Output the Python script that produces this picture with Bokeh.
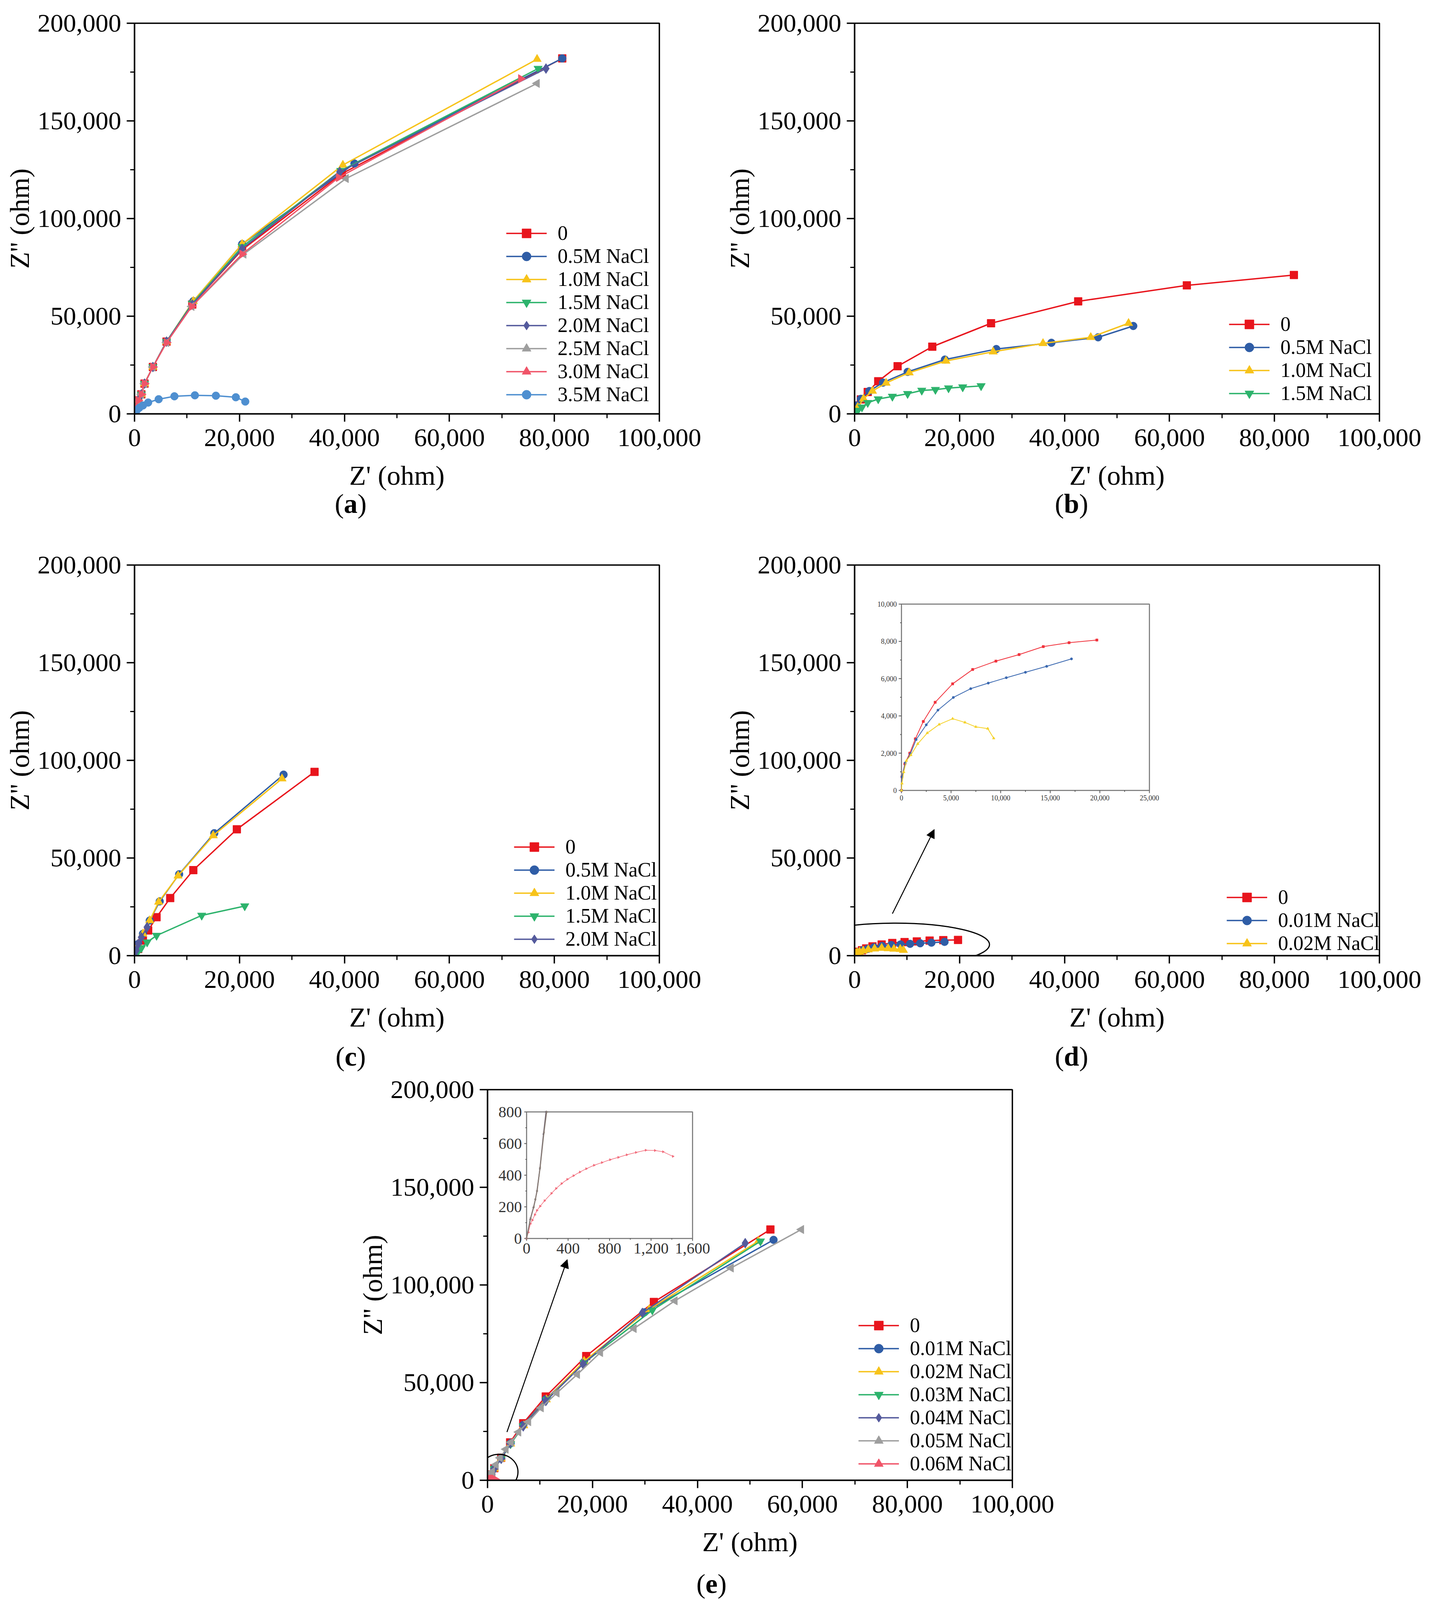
from bokeh.plotting import figure
from bokeh.models import (Range1d, FixedTicker, NumeralTickFormatter, Legend, LegendItem,
                          Arrow, NormalHead, ColumnDataSource, Spacer, Div)
from bokeh.layouts import column, row
from bokeh.core.properties import value
from bokeh.embed import file_html
from bokeh.resources import INLINE
import math

FONT = "Liberation Serif"
RED = "#E8141C"; BLUE = "#2F5DA6"; YELLOW = "#F7C31A"; GREEN = "#2DB36C"
PURPLE = "#545A9C"; GRAY = "#9E9E9E"; PINK = "#F05468"; LBLUE = "#4E8FD0"

X_TICKS = [0, 20000, 40000, 60000, 80000, 100000]
X_MINOR = [10000, 30000, 50000, 70000, 90000]
Y_TICKS = [0, 50000, 100000, 150000, 200000]
Y_MINOR = [25000, 75000, 125000, 175000]

# ---------------- (a) ----------------
a_labels = ["0", "0.5M NaCl", "1.0M NaCl", "1.5M NaCl", "2.0M NaCl", "2.5M NaCl", "3.0M NaCl", "3.5M NaCl"]
a_0_x = [0, 300, 700, 1300, 1900, 3500, 6100, 11000, 20500, 39500, 81500]
a_0_y = [0, 3400, 6900, 10000, 15500, 24000, 37000, 56000, 84000, 123000, 182000]
a_05_x = [0, 300, 700, 1300, 1900, 3500, 6100, 11200, 20500, 41900, 81500]
a_05_y = [0, 3400, 6900, 10000, 15500, 24000, 37000, 57700, 86900, 128200, 182000]
a_10_x = [0, 300, 700, 1300, 1900, 3500, 6100, 11200, 20500, 39700, 76700]
a_10_y = [0, 3400, 6900, 10000, 15500, 24000, 37000, 57700, 86900, 127400, 181600]
a_15_x = [0, 300, 700, 1300, 1900, 3500, 6100, 11000, 20500, 39300, 76900]
a_15_y = [0, 3400, 6900, 10000, 15500, 24000, 37000, 56500, 85500, 124500, 176800]
a_20_x = [0, 300, 700, 1300, 1900, 3500, 6100, 11000, 20500, 39100, 78400]
a_20_y = [0, 3400, 6900, 10000, 15500, 24000, 37000, 56000, 84500, 123900, 176800]
a_25_x = [0, 300, 700, 1300, 1900, 3500, 6100, 10900, 20800, 40300, 76700]
a_25_y = [0, 3400, 6900, 10000, 15500, 24000, 36500, 55000, 81800, 120500, 169200]
a_30_x = [0, 300, 700, 1300, 1900, 3500, 6100, 10900, 20500, 38900, 73600]
a_30_y = [0, 3400, 6900, 10000, 15500, 24000, 36500, 55000, 81800, 121000, 171600]
a_35_x = [0, 400, 900, 1600, 2600, 4600, 7600, 11500, 15500, 19300, 21100]
a_35_y = [0, 1800, 3100, 4300, 5800, 7500, 9000, 9500, 9300, 8500, 6300]

# ---------------- (b) ----------------
b_labels = ["0", "0.5M NaCl", "1.0M NaCl", "1.5M NaCl"]
b_0_x = [0, 400, 1200, 2500, 4500, 8200, 14800, 26000, 42600, 63300, 83700]
b_0_y = [0, 4300, 7400, 11200, 16700, 24400, 34400, 46400, 57600, 65800, 71100]
b_05_x = [0, 400, 1200, 2800, 5400, 10100, 17200, 27000, 37500, 46400, 53100]
b_05_y = [0, 4300, 7700, 11700, 16000, 21500, 27800, 33200, 36400, 39200, 45000]
b_10_x = [0, 600, 1700, 3400, 6000, 10400, 17400, 26400, 35900, 45000, 52200]
b_10_y = [0, 3400, 7700, 11700, 15800, 21100, 27100, 31800, 36100, 39200, 46400]
b_15_x = [200, 600, 1400, 2500, 4500, 7200, 10100, 12800, 15400, 17900, 20600, 24100]
b_15_y = [0, 1700, 3400, 5700, 7600, 8900, 10300, 12000, 12400, 13200, 13700, 14300]

# ---------------- (c) ----------------
c_labels = ["0", "0.5M NaCl", "1.0M NaCl", "1.5M NaCl", "2.0M NaCl"]
c_0_x = [0, 700, 1600, 2600, 4200, 6800, 11200, 19500, 34300]
c_0_y = [0, 3400, 7700, 12900, 19700, 29500, 43800, 64700, 94100]
c_05_x = [0, 700, 1600, 2900, 4800, 8500, 15200, 28400]
c_05_y = [0, 6000, 11200, 18000, 27800, 41700, 62700, 92700]
c_10_x = [0, 700, 1600, 2900, 4600, 8300, 15000, 28100]
c_10_y = [0, 6000, 11200, 18000, 27500, 40900, 61500, 90600]
c_15_x = [0, 500, 1300, 2400, 4200, 12800, 21000]
c_15_y = [0, 1400, 3900, 6900, 10300, 20600, 25400]
c_20_x = [0, 300, 700, 1300, 2400]
c_20_y = [0, 2600, 6000, 9400, 14600]

# ---------------- (d) main + inset ----------------
d_labels = ["0", "0.01M NaCl", "0.02M NaCl"]
d_0_x = [0, 50, 340, 840, 1400, 2200, 3400, 5160, 7180, 9520, 11860, 14300, 16900, 19700]
d_0_y = [0, 730, 1430, 2000, 2770, 3700, 4730, 5720, 6490, 6940, 7290, 7720, 7930, 8070]
d_001_x = [0, 50, 390, 900, 1480, 2500, 3680, 5230, 6980, 8750, 10570, 12500, 14640, 17140]
d_001_y = [0, 730, 1480, 1960, 2730, 3520, 4310, 4990, 5460, 5760, 6050, 6340, 6660, 7060]
d_002_x = [0, 50, 230, 500, 950, 1640, 2600, 3800, 5160, 6400, 7500, 8700, 9300]
d_002_y = [0, 380, 990, 1600, 1900, 2500, 3080, 3540, 3850, 3650, 3410, 3320, 2800]
d_in_xticks = [0, 5000, 10000, 15000, 20000, 25000]
d_in_xlabels = ["0", "5,000", "10,000", "15,000", "20,000", "25,000"]
d_in_xminor = [2500, 7500, 12500, 17500, 22500]
d_in_yticks = [0, 2000, 4000, 6000, 8000, 10000]
d_in_ylabels = ["0", "2,000", "4,000", "6,000", "8,000", "10,000"]
d_in_yminor = [1000, 3000, 5000, 7000, 9000]

# ---------------- (e) main + inset ----------------
e_labels = ["0", "0.01M NaCl", "0.02M NaCl", "0.03M NaCl", "0.04M NaCl", "0.05M NaCl", "0.06M NaCl"]
e_0_x = [0, 190, 700, 1300, 2600, 4300, 6800, 11100, 18800, 31700, 53900]
e_0_y = [0, 800, 3000, 6200, 11500, 19400, 29200, 42900, 63600, 91300, 128400]
e_001_x = [0, 190, 700, 1300, 2600, 4400, 6800, 11100, 18400, 29900, 54500]
e_001_y = [0, 800, 2900, 6000, 11200, 18900, 28300, 41500, 60600, 86000, 123100]
e_002_x = [0, 190, 700, 1300, 2600, 4400, 6900, 11200, 18400, 30800, 51600]
e_002_y = [0, 800, 2900, 5900, 11000, 18700, 28000, 41300, 61000, 87500, 122400]
e_003_x = [0, 190, 700, 1300, 2600, 4400, 6800, 11300, 18400, 31400, 52000]
e_003_y = [0, 800, 2900, 5900, 11000, 18600, 27700, 41200, 60100, 87100, 122400]
e_004_x = [0, 188, 700, 1300, 2600, 4300, 6800, 11100, 18200, 29500, 49100]
e_004_y = [0, 800, 2900, 5900, 11000, 18900, 27600, 40600, 59500, 85700, 121400]
e_005_x = [0, 194, 700, 900, 1600, 2400, 3500, 4500, 5900, 7800, 10200, 13200, 17100, 21500, 27900, 35700, 46400, 59800]
e_005_y = [0, 800, 3200, 4400, 8000, 11500, 15900, 19400, 24700, 30000, 37100, 44700, 54200, 65400, 77700, 91900, 108700, 128400]
e_006_x = [0, 17, 37, 56, 80, 100, 131, 174, 240, 285, 338, 393, 453, 514, 576, 651, 727, 806, 885, 966, 1055, 1149, 1238, 1316, 1411]
e_006_y = [0, 39, 93, 116, 150, 177, 204, 239, 285, 316, 347, 374, 397, 420, 441, 463, 480, 498, 513, 529, 544, 558, 556, 548, 519]
# steep low-frequency segments visible in the inset (up to the inset top)
e_in_gray_x = [0, 40, 70, 86, 102, 131, 168, 194]
e_in_gray_y = [0, 130, 200, 250, 301, 449, 671, 800]
e_in_purple_x = [0, 35, 66, 84, 100, 128, 163, 188]
e_in_purple_y = [0, 120, 195, 245, 300, 440, 660, 800]
e_in_xticks = [0, 400, 800, 1200, 1600]
e_in_xlabels = ["0", "400", "800", "1,200", "1,600"]
e_in_xminor = [200, 600, 1000, 1400]
e_in_yticks = [0, 200, 400, 600, 800]
e_in_ylabels = ["0", "200", "400", "600", "800"]
e_in_yminor = [100, 300, 500, 700]

FRAME_W, FRAME_H = 1344, 1000
LEFT = 344


def make_fig(width, height, top):
    bottom = height - top - FRAME_H
    p = figure(width=width, height=height, x_range=Range1d(0, 100000), y_range=Range1d(0, 200000),
               output_backend="svg", toolbar_location=None, title=None,
               min_border_left=LEFT, min_border_right=width - LEFT - FRAME_W,
               min_border_top=top, min_border_bottom=bottom,
               background_fill_color="white", border_fill_color="white")
    p.outline_line_color = "black"
    p.outline_line_width = 3.5
    p.xgrid.visible = False
    p.ygrid.visible = False
    p.xaxis.ticker = FixedTicker(ticks=X_TICKS, minor_ticks=X_MINOR)
    p.yaxis.ticker = FixedTicker(ticks=Y_TICKS, minor_ticks=Y_MINOR)
    p.xaxis.formatter = NumeralTickFormatter(format="0,0")
    p.yaxis.formatter = NumeralTickFormatter(format="0,0")
    for ax in (p.xaxis[0], p.yaxis[0]):
        ax.axis_line_width = 3.5
        ax.axis_line_color = "black"
        ax.major_tick_out = 20
        ax.major_tick_in = 0
        ax.minor_tick_out = 11
        ax.minor_tick_in = 0
        ax.major_tick_line_width = 3.5
        ax.minor_tick_line_width = 3
        ax.major_label_text_font = FONT
        ax.major_label_text_font_size = "66px"
        ax.major_label_text_color = "black"
        ax.axis_label_text_font = FONT
        ax.axis_label_text_font_size = "70px"
        ax.axis_label_text_font_style = "normal"
        ax.axis_label_text_color = "black"
    p.xaxis.axis_label = "Z' (ohm)"
    p.yaxis.axis_label = "Z'' (ohm)"
    p.xaxis.major_label_standoff = 19
    p.xaxis.axis_label_standoff = 34
    p.yaxis.major_label_standoff = 14
    p.yaxis.axis_label_standoff = 4
    return p


def series(p, xs, ys, color, marker, size=20, angle=0.0, lw=3.5, rname=None, alpha=1.0):
    src = ColumnDataSource(dict(x=xs, y=ys))
    kw = dict(x_range_name=rname, y_range_name=rname) if rname else {}
    l = p.line("x", "y", source=src, line_color=color, line_width=lw, line_alpha=alpha, **kw)
    s = p.scatter("x", "y", source=src, marker=marker, size=size, angle=angle, angle_units="rad",
                  fill_color=color, line_color=color, **kw)
    return [l, s]


def legend(p, items, loc):
    lg = Legend(items=[LegendItem(label=t, renderers=r) for t, r in items], location=loc,
                label_text_font=FONT, label_text_font_size="52px", label_text_color="black",
                glyph_width=104, glyph_height=58, label_height=58, label_standoff=28,
                spacing=0, padding=0, margin=0, border_line_alpha=0, background_fill_alpha=0)
    p.add_layout(lg, "center")


def caption(letter, center_x, height):
    w = int(2 * center_x)
    html = ('<div style="width:%dpx;font-family:\'Liberation Serif\';font-size:70px;line-height:36px;'
            'text-align:center;color:black;">(<b>%s</b>)</div>' % (w, letter))
    return Div(text=html, width=w, height=height, styles={"text-align": "center", "width": "%dpx" % w})


def inset(p, name, xlo, xhi, ylo, yhi, box, xt, xl, xm, yt, yl, ym, fsize, tick=8, gap=6):
    l, r, b, t = box  # frame pixels from left / bottom
    sx = (r - l) / (xhi - xlo)
    sy = (t - b) / (yhi - ylo)
    p.extra_x_ranges = {name: Range1d(xlo - l / sx, xhi + (FRAME_W - r) / sx)}
    p.extra_y_ranges = {name: Range1d(ylo - b / sy, yhi + (FRAME_H - t) / sy)}
    kw = dict(x_range_name=name, y_range_name=name)
    p.quad(left=[xlo], right=[xhi], bottom=[ylo], top=[yhi], fill_color="white",
           line_color="#858585", line_width=3, **kw)
    dy = tick / sy
    dx = tick / sx
    p.segment(x0=xt, y0=[ylo] * len(xt), x1=xt, y1=[ylo - dy] * len(xt), line_color="#555", line_width=2, **kw)
    p.segment(x0=xm, y0=[ylo] * len(xm), x1=xm, y1=[ylo - dy / 2] * len(xm), line_color="#555", line_width=2, **kw)
    p.segment(x0=[xlo] * len(yt), y0=yt, x1=[xlo - dx] * len(yt), y1=yt, line_color="#555", line_width=2, **kw)
    p.segment(x0=[xlo] * len(ym), y0=ym, x1=[xlo - dx / 2] * len(ym), y1=ym, line_color="#555", line_width=2, **kw)
    p.text(x=xt, y=[ylo] * len(xt), text=xl, text_align="center", text_baseline="top",
           y_offset=tick + gap, text_font=value(FONT), text_font_size=fsize, text_color="#333333", **kw)
    p.text(x=[xlo] * len(yt), y=yt, text=yl, text_align="right", text_baseline="middle",
           x_offset=-(tick + gap), text_font=value(FONT), text_font_size=fsize, text_color="#333333", **kw)
    return name


LT = math.pi / 2
RT = -math.pi / 2

# ---------- panel a ----------
pa = make_fig(1844, 1267, 59)
ra = [
    series(pa, a_0_x, a_0_y, RED, "square"),
    series(pa, a_05_x, a_05_y, BLUE, "circle"),
    series(pa, a_10_x, a_10_y, YELLOW, "triangle", 22),
    series(pa, a_15_x, a_15_y, GREEN, "inverted_triangle", 22),
    series(pa, a_20_x, a_20_y, PURPLE, "diamond", 26),
    series(pa, a_25_x, a_25_y, GRAY, "triangle", 22, LT),
    series(pa, a_30_x, a_30_y, PINK, "triangle", 22, RT),
    series(pa, a_35_x, a_35_y, LBLUE, "circle"),
]
legend(pa, list(zip(a_labels, ra)), (952, 20))

# ---------- panel b ----------
pb = make_fig(1802, 1267, 59)
rb = [
    series(pb, b_0_x, b_0_y, RED, "square"),
    series(pb, b_05_x, b_05_y, BLUE, "circle"),
    series(pb, b_10_x, b_10_y, YELLOW, "triangle", 22),
    series(pb, b_15_x, b_15_y, GREEN, "inverted_triangle", 22),
]
legend(pb, list(zip(b_labels, rb)), (959, 23))

# ---------- panel c ----------
pc = make_fig(1844, 1295, 59)
rc = [
    series(pc, c_0_x, c_0_y, RED, "square"),
    series(pc, c_05_x, c_05_y, BLUE, "circle"),
    series(pc, c_10_x, c_10_y, YELLOW, "triangle", 22),
    series(pc, c_15_x, c_15_y, GREEN, "inverted_triangle", 22),
    series(pc, c_20_x, c_20_y, PURPLE, "diamond", 26),
]
legend(pc, list(zip(c_labels, rc)), (972, 13))

# ---------- panel d ----------
pd_ = make_fig(1802, 1295, 59)
rd = [
    series(pd_, d_0_x, d_0_y, RED, "square"),
    series(pd_, d_001_x, d_001_y, BLUE, "circle"),
    series(pd_, d_002_x, d_002_y, YELLOW, "triangle", 22),
]
legend(pd_, list(zip(d_labels, rd)), (953, 2))
nd = inset(pd_, "din", 0, 25000, 0, 10000, (120, 755, 423, 900),
           d_in_xticks, d_in_xlabels, d_in_xminor, d_in_yticks, d_in_ylabels, d_in_yminor, "18px", tick=7, gap=5)
series(pd_, d_0_x, d_0_y, "#F0323C", "square", 6, lw=2, rname=nd)
series(pd_, d_001_x, d_001_y, "#3A68B0", "circle", 6, lw=2, rname=nd)
series(pd_, d_002_x, d_002_y, "#F5D22A", "triangle", 7, lw=2, rname=nd)
pd_.ellipse(x=[7800], y=[5700], width=[35800], height=[21900], fill_alpha=0,
            line_color="black", line_width=3)
pd_.add_layout(Arrow(end=NormalHead(size=22, fill_color="black", line_color="black"),
                     x_start=7200, y_start=21500, x_end=15200, y_end=64700,
                     line_color="black", line_width=2.5))

# ---------- panel e ----------
pe = make_fig(1844, 1280, 37)
re_ = [
    series(pe, e_0_x, e_0_y, RED, "square"),
    series(pe, e_001_x, e_001_y, BLUE, "circle"),
    series(pe, e_002_x, e_002_y, YELLOW, "triangle", 22),
    series(pe, e_003_x, e_003_y, GREEN, "inverted_triangle", 22),
    series(pe, e_004_x, e_004_y, PURPLE, "diamond", 26),
    series(pe, e_005_x, e_005_y, GRAY, "triangle", 22, LT),
    series(pe, e_006_x, e_006_y, PINK, "triangle", 22, RT),
]
legend(pe, list(zip(e_labels, re_)), (950, 13))
ne = inset(pe, "ein", 0, 1600, 0, 800, (100, 525, 619, 943),
           e_in_xticks, e_in_xlabels, e_in_xminor, e_in_yticks, e_in_ylabels, e_in_yminor, "40px", tick=6, gap=6)
series(pe, e_006_x, e_006_y, "#F26B7A", "triangle", 6, RT, lw=1.5, rname=ne)
series(pe, e_in_purple_x, e_in_purple_y, "#5A4E5E", "diamond", 6, lw=2.5, rname=ne)
series(pe, e_in_gray_x, e_in_gray_y, "#8C8078", "triangle", 5, LT, lw=2.5, rname=ne)
pe.ellipse(x=[2150], y=[4250], width=[7300], height=[18100], fill_alpha=0,
           line_color="black", line_width=3)
pe.add_layout(Arrow(end=NormalHead(size=22, fill_color="black", line_color="black"),
                    x_start=3700, y_start=24700, x_end=15200, y_end=113100,
                    line_color="black", line_width=2.5))

layout = column(
    row(column(pa, caption("a", 893, 110)), column(pb, caption("b", 895, 110))),
    row(column(pc, caption("c", 893, 60)), column(pd_, caption("d", 895, 60))),
    row(Spacer(width=904, height=10), column(pe, caption("e", 913, 60))),
)
open("out.html", "w").write(file_html(layout, INLINE))
